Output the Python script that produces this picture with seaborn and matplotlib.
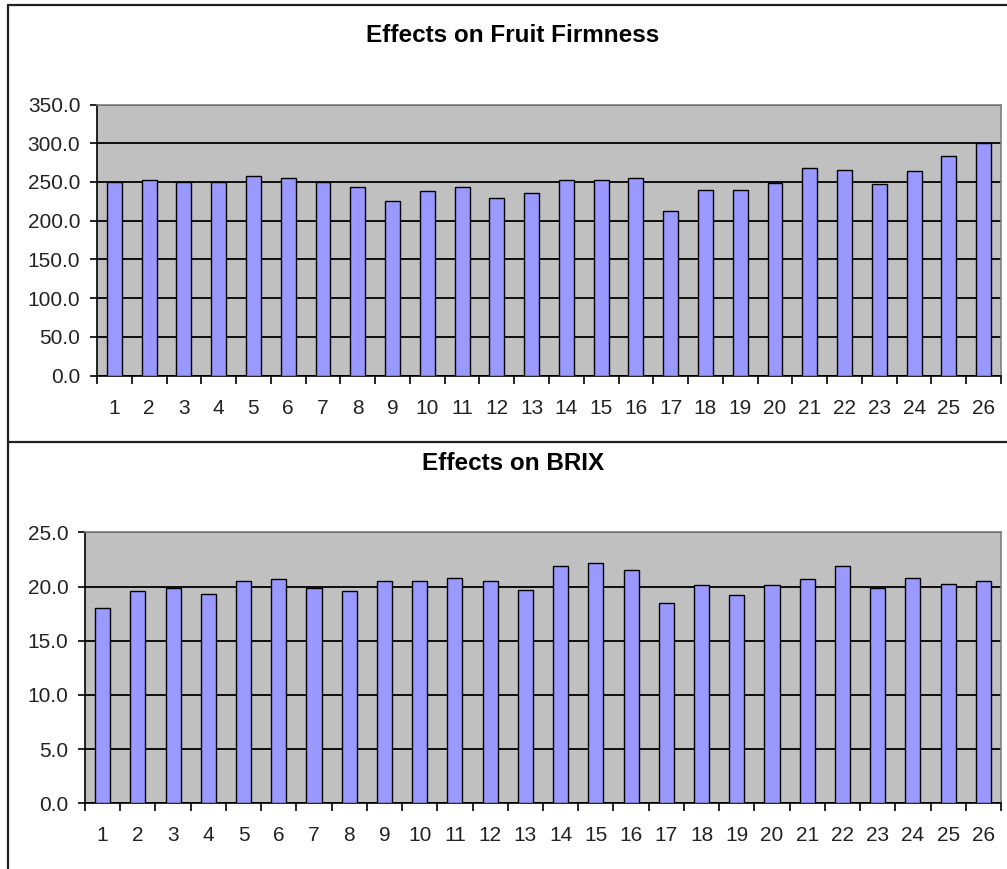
import matplotlib
matplotlib.use("Agg")
import matplotlib.pyplot as plt
from matplotlib.lines import Line2D
from matplotlib.ticker import MultipleLocator, FixedLocator, FormatStrFormatter
import seaborn as sns
import pandas as pd
import numpy as np

# Sample numbers and measured effects
samples = [str(i) for i in range(1, 27)]
firmness = [250, 252, 250, 250, 258, 255, 250, 244, 225, 238, 244, 229, 236,
            253, 253, 255, 212, 240, 240, 249, 268, 265, 247, 264, 283, 300]
brix = [18.0, 19.6, 19.9, 19.3, 20.5, 20.7, 19.9, 19.6, 20.5, 20.5, 20.8, 20.5, 19.7,
        21.9, 22.2, 21.5, 18.5, 20.1, 19.2, 20.1, 20.7, 21.9, 19.9, 20.8, 20.2, 20.5]

sns.set_theme(style="white")
plt.rcParams['font.family'] = ['Liberation Sans', 'DejaVu Sans']

W, H = 1007, 869
fig = plt.figure(figsize=(W / 100, H / 100), dpi=100)
fig.patch.set_facecolor("white")


def px_axes(l, t, r, b):
    return fig.add_axes([l / W, 1 - b / H, (r - l) / W, (b - t) / H])


def draw_panel(ax, values, ymax, step, title, title_y):
    df = pd.DataFrame({"sample": samples, "value": values})
    sns.barplot(data=df, x="sample", y="value", ax=ax, color="#9999FF",
                saturation=1, width=0.43, edgecolor="black", linewidth=1.0,
                errorbar=None, zorder=3)
    ax.set_facecolor("#C0C0C0")
    ax.set_xlim(-0.5, len(samples) - 0.5)
    ax.set_ylim(0, ymax)
    ax.set_xlabel("")
    ax.set_ylabel("")

    ax.yaxis.set_major_locator(MultipleLocator(step))
    ax.yaxis.set_major_formatter(FormatStrFormatter("%.1f"))
    ax.yaxis.grid(True, color="black", linewidth=1.3)
    ax.xaxis.grid(False)
    ax.set_axisbelow(True)

    # category boundaries carry the tick marks, labels sit at the centres
    ax.xaxis.set_minor_locator(FixedLocator(np.arange(-0.5, len(samples), 1.0)))
    ax.tick_params(axis="x", which="major", length=0, pad=16.5, labelsize=15,
                   labelcolor="#222222")
    ax.tick_params(axis="x", which="minor", bottom=True, length=5.5, width=1.2,
                   color="black", direction="out")
    ax.tick_params(axis="y", which="major", left=True, length=5, width=1.2,
                   color="black", direction="out", pad=7, labelsize=15,
                   labelcolor="#222222")

    for side in ("left", "bottom"):
        ax.spines[side].set_color("black")
        ax.spines[side].set_linewidth(1.2)
    for side in ("top", "right"):
        ax.spines[side].set_color("#808080")
        ax.spines[side].set_linewidth(1.2)

    fig.text(513 / W, 1 - title_y / H, title, ha="center", va="center",
             fontsize=17.5, fontweight="bold", color="black")


ax1 = px_axes(97, 104.5, 1001, 375.6)
draw_panel(ax1, firmness, 350, 50, "Effects on Fruit Firmness", 35)

ax2 = px_axes(85, 532.3, 1001, 803.3)
draw_panel(ax2, brix, 25, 5, "Effects on BRIX", 463)

# chart frames
frame = dict(color="#222222", linewidth=1.6, transform=fig.transFigure)
fig.add_artist(Line2D([8 / W, 1], [1 - 4.5 / H, 1 - 4.5 / H], **frame))
fig.add_artist(Line2D([8 / W, 8 / W], [1 - 4.5 / H, 0], **frame))
fig.add_artist(Line2D([8 / W, 1], [1 - 442 / H, 1 - 442 / H], **frame))

fig.savefig("out.png", dpi=100, facecolor="white")
